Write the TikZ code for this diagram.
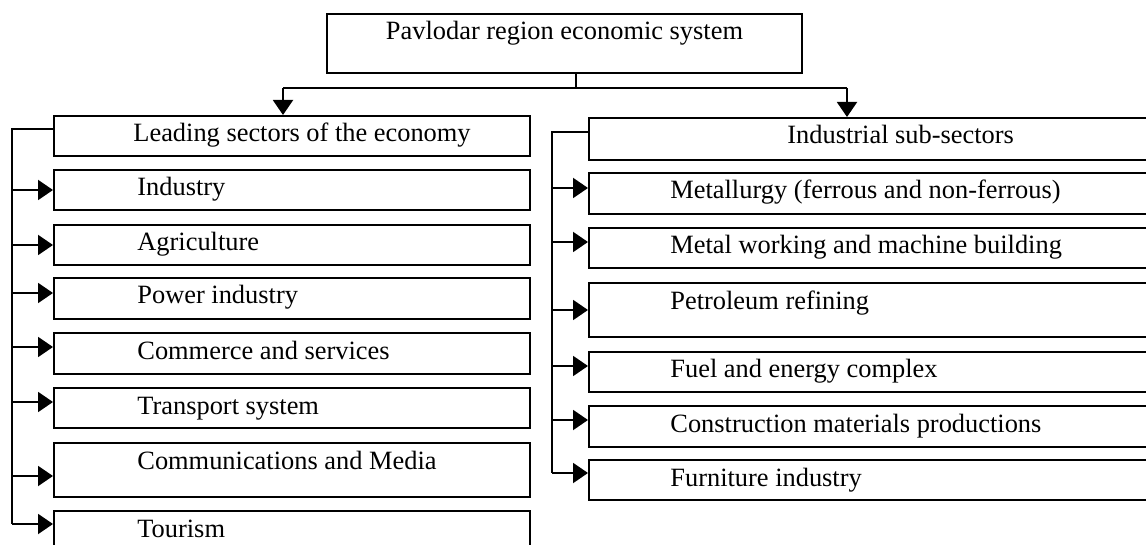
\documentclass[tikz,border=0pt]{standalone}
\usepackage{fontspec}
\setmainfont{Liberation Serif}
\usetikzlibrary{arrows.meta,fit}
\begin{document}
\begin{tikzpicture}[x=0.5pt,y=-0.5pt,
  box/.style={draw,line width=1pt,inner sep=0pt,rectangle},
  txt/.style={inner sep=0pt,font=\fontsize{13.2pt}{15pt}\selectfont},
  ln/.style={line width=1pt},
  arr/.style={line width=1pt,-{Triangle[length=7.5pt,width=10pt]}}]
\useasboundingbox (0,0) rectangle (1146,545);
\fill[white] (0,0) rectangle (1146,545);
\clip (0,0) rectangle (1146,545);
% top box
\node[box,fit={(327,14) (802,73)}] (top) {};
\node[txt,anchor=base] (topt) at (564.5,40) {Pavlodar region economic system};
% left column
\node[box,fit={(54,116) (530,156)}] (lead) {};
\node[txt,anchor=base west] (leadt) at (133,142) {Leading sectors of the economy};
\node[box,fit={(54,170) (530,210)}] (L1) {};
\node[txt,anchor=base west] (L1t) at (137,196) {Industry};
\node[box,fit={(54,225) (530,265)}] (L2) {};
\node[txt,anchor=base west] (L2t) at (137,251) {Agriculture};
\node[box,fit={(54,278) (530,319)}] (L3) {};
\node[txt,anchor=base west] (L3t) at (137,304) {Power industry};
\node[box,fit={(54,333) (530,374)}] (L4) {};
\node[txt,anchor=base west] (L4t) at (137,359) {Commerce and services};
\node[box,fit={(54,388) (530,428)}] (L5) {};
\node[txt,anchor=base west] (L5t) at (137,414) {Transport system};
\node[box,fit={(54,443) (530,497)}] (L6) {};
\node[txt,anchor=base west] (L6t) at (137,469) {Communications and Media};
\node[box,fit={(54,511) (530,560)}] (L7) {};
\node[txt,anchor=base west] (L7t) at (137,537) {Tourism};
% right column
\node[box,fit={(589,118) (1160,160)}] (ind) {};
\node[txt,anchor=base west] (indt) at (787,144) {Industrial sub-sectors};
\node[box,fit={(589,173) (1160,214)}] (R1) {};
\node[txt,anchor=base west] (R1t) at (670,199) {Metallurgy (ferrous and non-ferrous)};
\node[box,fit={(589,228) (1160,268)}] (R2) {};
\node[txt,anchor=base west] (R2t) at (670,254) {Metal working and machine building};
\node[box,fit={(589,283) (1160,337)}] (R3) {};
\node[txt,anchor=base west] (R3t) at (670,309) {Petroleum refining};
\node[box,fit={(589,352) (1160,392)}] (R4) {};
\node[txt,anchor=base west] (R4t) at (670,378) {Fuel and energy complex};
\node[box,fit={(589,406) (1160,447)}] (R5) {};
\node[txt,anchor=base west] (R5t) at (670,432) {Construction materials productions};
\node[box,fit={(589,460) (1160,500)}] (R6) {};
\node[txt,anchor=base west] (R6t) at (670,486) {Furniture industry};
% top connectors
\coordinate (s) at (576,88);
\coordinate (dl) at (283,88);
\coordinate (dr) at (847,88);
\draw[ln] (s |- top.south) -- (s);
\draw[ln] (dl) -- (dr);
\draw[arr] (dl) -- (dl |- lead.north);
\draw[arr] (dr) -- (dr |- ind.north);
% left trunk
\coordinate (lt) at (12,129);
\coordinate (lb) at (12,524);
\draw[ln] (lt -| lead.west) -- (lt) -- (lb);
\foreach \n/\y in {L1/190,L2/245,L3/293,L4/347,L5/402,L6/476,L7/524}{
  \coordinate (la\n) at (12,\y);
  \draw[arr] (la\n) -- (la\n -| \n.west);
}
% right trunk
\coordinate (rt) at (552,132);
\coordinate (rb) at (552,473);
\draw[ln] (rt -| ind.west) -- (rt) -- (rb);
\foreach \n/\y in {R1/188,R2/242,R3/310,R4/366,R5/420,R6/473}{
  \coordinate (ra\n) at (552,\y);
  \draw[arr] (ra\n) -- (ra\n -| \n.west);
}
\end{tikzpicture}
\end{document}
